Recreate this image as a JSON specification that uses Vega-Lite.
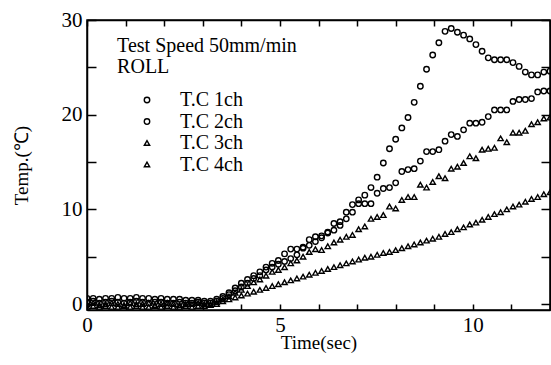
{
"$schema": "https://vega.github.io/schema/vega-lite/v6.json",
"width": 463, "height": 290,
"autosize": {"type": "none"},
"padding": {"left": 87, "top": 20, "right": 1, "bottom": 55},
"background": "white",
"config": {
  "view": {"stroke": "black", "strokeWidth": 1.5},
  "font": "Liberation Serif",
  "axis": {"grid": false, "labelFlush": false, "domainColor": "black", "domainWidth": 1.5, "tickColor": "black", "tickWidth": 1.5, "labelColor": "black", "labelFont": "Liberation Serif", "labelFontSize": 21, "titleFont": "Liberation Serif", "titleFontSize": 19, "titleFontWeight": "normal", "titleColor": "black"}
},
"data": {"values": [
{"t":0,"s":"T.C 1ch","v":0.6},{"t":0.16,"s":"T.C 1ch","v":0.6},{"t":0.32,"s":"T.C 1ch","v":0.5},{"t":0.48,"s":"T.C 1ch","v":0.6},{"t":0.64,"s":"T.C 1ch","v":0.6},{"t":0.8,"s":"T.C 1ch","v":0.7},{"t":0.96,"s":"T.C 1ch","v":0.6},{"t":1.12,"s":"T.C 1ch","v":0.6},{"t":1.28,"s":"T.C 1ch","v":0.7},{"t":1.44,"s":"T.C 1ch","v":0.6},{"t":1.6,"s":"T.C 1ch","v":0.6},{"t":1.76,"s":"T.C 1ch","v":0.5},{"t":1.92,"s":"T.C 1ch","v":0.6},{"t":2.08,"s":"T.C 1ch","v":0.5},{"t":2.24,"s":"T.C 1ch","v":0.5},{"t":2.4,"s":"T.C 1ch","v":0.5},{"t":2.56,"s":"T.C 1ch","v":0.4},{"t":2.72,"s":"T.C 1ch","v":0.4},{"t":2.88,"s":"T.C 1ch","v":0.4},{"t":3.04,"s":"T.C 1ch","v":0.3},{"t":3.2,"s":"T.C 1ch","v":0.3},{"t":3.36,"s":"T.C 1ch","v":0.5},{"t":3.52,"s":"T.C 1ch","v":0.8},{"t":3.68,"s":"T.C 1ch","v":1.2},{"t":3.84,"s":"T.C 1ch","v":1.7},{"t":4,"s":"T.C 1ch","v":2.2},{"t":4.16,"s":"T.C 1ch","v":2.6},{"t":4.32,"s":"T.C 1ch","v":3.0},{"t":4.48,"s":"T.C 1ch","v":3.4},{"t":4.64,"s":"T.C 1ch","v":3.9},{"t":4.8,"s":"T.C 1ch","v":4.3},{"t":4.96,"s":"T.C 1ch","v":4.6},{"t":5.12,"s":"T.C 1ch","v":5.3},{"t":5.28,"s":"T.C 1ch","v":5.8},{"t":5.44,"s":"T.C 1ch","v":5.8},{"t":5.6,"s":"T.C 1ch","v":6.0},{"t":5.76,"s":"T.C 1ch","v":6.8},{"t":5.92,"s":"T.C 1ch","v":7.1},{"t":6.08,"s":"T.C 1ch","v":7.2},{"t":6.24,"s":"T.C 1ch","v":7.6},{"t":6.4,"s":"T.C 1ch","v":8.5},{"t":6.56,"s":"T.C 1ch","v":8.7},{"t":6.72,"s":"T.C 1ch","v":9.7},{"t":6.88,"s":"T.C 1ch","v":10.5},{"t":7.04,"s":"T.C 1ch","v":11.0},{"t":7.2,"s":"T.C 1ch","v":11.5},{"t":7.36,"s":"T.C 1ch","v":12.3},{"t":7.52,"s":"T.C 1ch","v":13.4},{"t":7.68,"s":"T.C 1ch","v":14.9},{"t":7.84,"s":"T.C 1ch","v":16.4},{"t":8,"s":"T.C 1ch","v":17.4},{"t":8.16,"s":"T.C 1ch","v":18.6},{"t":8.32,"s":"T.C 1ch","v":19.7},{"t":8.48,"s":"T.C 1ch","v":21.3},{"t":8.64,"s":"T.C 1ch","v":23.0},{"t":8.8,"s":"T.C 1ch","v":24.8},{"t":8.96,"s":"T.C 1ch","v":26.3},{"t":9.12,"s":"T.C 1ch","v":27.6},{"t":9.28,"s":"T.C 1ch","v":28.8},{"t":9.44,"s":"T.C 1ch","v":29.1},{"t":9.6,"s":"T.C 1ch","v":28.7},{"t":9.76,"s":"T.C 1ch","v":28.4},{"t":9.92,"s":"T.C 1ch","v":28.0},{"t":10.08,"s":"T.C 1ch","v":27.4},{"t":10.24,"s":"T.C 1ch","v":26.7},{"t":10.4,"s":"T.C 1ch","v":26.0},{"t":10.56,"s":"T.C 1ch","v":25.8},{"t":10.72,"s":"T.C 1ch","v":25.8},{"t":10.88,"s":"T.C 1ch","v":25.8},{"t":11.04,"s":"T.C 1ch","v":25.5},{"t":11.2,"s":"T.C 1ch","v":25.1},{"t":11.36,"s":"T.C 1ch","v":24.5},{"t":11.52,"s":"T.C 1ch","v":24.2},{"t":11.68,"s":"T.C 1ch","v":24.2},{"t":11.84,"s":"T.C 1ch","v":24.5},{"t":12,"s":"T.C 1ch","v":24.6},
{"t":0,"s":"T.C 2ch","v":0.2},{"t":0.16,"s":"T.C 2ch","v":0.3},{"t":0.32,"s":"T.C 2ch","v":0.1},{"t":0.48,"s":"T.C 2ch","v":0.2},{"t":0.64,"s":"T.C 2ch","v":0.3},{"t":0.8,"s":"T.C 2ch","v":0.2},{"t":0.96,"s":"T.C 2ch","v":0.1},{"t":1.12,"s":"T.C 2ch","v":0.2},{"t":1.28,"s":"T.C 2ch","v":0.3},{"t":1.44,"s":"T.C 2ch","v":0.2},{"t":1.6,"s":"T.C 2ch","v":0.1},{"t":1.76,"s":"T.C 2ch","v":0.2},{"t":1.92,"s":"T.C 2ch","v":0.2},{"t":2.08,"s":"T.C 2ch","v":0.1},{"t":2.24,"s":"T.C 2ch","v":0.1},{"t":2.4,"s":"T.C 2ch","v":0.2},{"t":2.56,"s":"T.C 2ch","v":0.1},{"t":2.72,"s":"T.C 2ch","v":0.1},{"t":2.88,"s":"T.C 2ch","v":0.2},{"t":3.04,"s":"T.C 2ch","v":0.1},{"t":3.2,"s":"T.C 2ch","v":0.1},{"t":3.36,"s":"T.C 2ch","v":0.3},{"t":3.52,"s":"T.C 2ch","v":0.6},{"t":3.68,"s":"T.C 2ch","v":1.0},{"t":3.84,"s":"T.C 2ch","v":1.4},{"t":4,"s":"T.C 2ch","v":1.8},{"t":4.16,"s":"T.C 2ch","v":2.2},{"t":4.32,"s":"T.C 2ch","v":2.7},{"t":4.48,"s":"T.C 2ch","v":3.0},{"t":4.64,"s":"T.C 2ch","v":3.6},{"t":4.8,"s":"T.C 2ch","v":3.9},{"t":4.96,"s":"T.C 2ch","v":4.2},{"t":5.12,"s":"T.C 2ch","v":4.5},{"t":5.28,"s":"T.C 2ch","v":4.8},{"t":5.44,"s":"T.C 2ch","v":5.2},{"t":5.6,"s":"T.C 2ch","v":5.9},{"t":5.76,"s":"T.C 2ch","v":6.2},{"t":5.92,"s":"T.C 2ch","v":6.6},{"t":6.08,"s":"T.C 2ch","v":7.0},{"t":6.24,"s":"T.C 2ch","v":7.5},{"t":6.4,"s":"T.C 2ch","v":7.8},{"t":6.56,"s":"T.C 2ch","v":8.3},{"t":6.72,"s":"T.C 2ch","v":9.0},{"t":6.88,"s":"T.C 2ch","v":9.7},{"t":7.04,"s":"T.C 2ch","v":10.6},{"t":7.2,"s":"T.C 2ch","v":10.6},{"t":7.36,"s":"T.C 2ch","v":10.6},{"t":7.52,"s":"T.C 2ch","v":11.7},{"t":7.68,"s":"T.C 2ch","v":12.2},{"t":7.84,"s":"T.C 2ch","v":12.3},{"t":8,"s":"T.C 2ch","v":12.8},{"t":8.16,"s":"T.C 2ch","v":14.0},{"t":8.32,"s":"T.C 2ch","v":14.2},{"t":8.48,"s":"T.C 2ch","v":14.3},{"t":8.64,"s":"T.C 2ch","v":15.1},{"t":8.8,"s":"T.C 2ch","v":16.1},{"t":8.96,"s":"T.C 2ch","v":16.1},{"t":9.12,"s":"T.C 2ch","v":16.3},{"t":9.28,"s":"T.C 2ch","v":17.2},{"t":9.44,"s":"T.C 2ch","v":17.9},{"t":9.6,"s":"T.C 2ch","v":17.7},{"t":9.76,"s":"T.C 2ch","v":18.4},{"t":9.92,"s":"T.C 2ch","v":19.1},{"t":10.08,"s":"T.C 2ch","v":19.1},{"t":10.24,"s":"T.C 2ch","v":19.2},{"t":10.4,"s":"T.C 2ch","v":19.8},{"t":10.56,"s":"T.C 2ch","v":20.5},{"t":10.72,"s":"T.C 2ch","v":20.5},{"t":10.88,"s":"T.C 2ch","v":20.5},{"t":11.04,"s":"T.C 2ch","v":21.4},{"t":11.2,"s":"T.C 2ch","v":21.6},{"t":11.36,"s":"T.C 2ch","v":21.6},{"t":11.52,"s":"T.C 2ch","v":21.7},{"t":11.68,"s":"T.C 2ch","v":22.4},{"t":11.84,"s":"T.C 2ch","v":22.5},{"t":12,"s":"T.C 2ch","v":22.5},
{"t":0,"s":"T.C 3ch","v":0.0},{"t":0.16,"s":"T.C 3ch","v":0.1},{"t":0.32,"s":"T.C 3ch","v":-0.1},{"t":0.48,"s":"T.C 3ch","v":0.0},{"t":0.64,"s":"T.C 3ch","v":0.1},{"t":0.8,"s":"T.C 3ch","v":0.0},{"t":0.96,"s":"T.C 3ch","v":-0.1},{"t":1.12,"s":"T.C 3ch","v":0.1},{"t":1.28,"s":"T.C 3ch","v":0.0},{"t":1.44,"s":"T.C 3ch","v":0.0},{"t":1.6,"s":"T.C 3ch","v":0.1},{"t":1.76,"s":"T.C 3ch","v":-0.1},{"t":1.92,"s":"T.C 3ch","v":0.0},{"t":2.08,"s":"T.C 3ch","v":0.1},{"t":2.24,"s":"T.C 3ch","v":0.0},{"t":2.4,"s":"T.C 3ch","v":-0.1},{"t":2.56,"s":"T.C 3ch","v":0.0},{"t":2.72,"s":"T.C 3ch","v":0.0},{"t":2.88,"s":"T.C 3ch","v":0.1},{"t":3.04,"s":"T.C 3ch","v":0.0},{"t":3.2,"s":"T.C 3ch","v":0.0},{"t":3.36,"s":"T.C 3ch","v":0.2},{"t":3.52,"s":"T.C 3ch","v":0.5},{"t":3.68,"s":"T.C 3ch","v":0.8},{"t":3.84,"s":"T.C 3ch","v":1.2},{"t":4,"s":"T.C 3ch","v":1.5},{"t":4.16,"s":"T.C 3ch","v":1.9},{"t":4.32,"s":"T.C 3ch","v":2.3},{"t":4.48,"s":"T.C 3ch","v":2.6},{"t":4.64,"s":"T.C 3ch","v":3.0},{"t":4.8,"s":"T.C 3ch","v":3.4},{"t":4.96,"s":"T.C 3ch","v":3.6},{"t":5.12,"s":"T.C 3ch","v":3.9},{"t":5.28,"s":"T.C 3ch","v":4.3},{"t":5.44,"s":"T.C 3ch","v":4.6},{"t":5.6,"s":"T.C 3ch","v":5.0},{"t":5.76,"s":"T.C 3ch","v":5.5},{"t":5.92,"s":"T.C 3ch","v":5.8},{"t":6.08,"s":"T.C 3ch","v":5.7},{"t":6.24,"s":"T.C 3ch","v":6.1},{"t":6.4,"s":"T.C 3ch","v":6.5},{"t":6.56,"s":"T.C 3ch","v":6.8},{"t":6.72,"s":"T.C 3ch","v":7.1},{"t":6.88,"s":"T.C 3ch","v":7.3},{"t":7.04,"s":"T.C 3ch","v":7.9},{"t":7.2,"s":"T.C 3ch","v":8.2},{"t":7.36,"s":"T.C 3ch","v":9.0},{"t":7.52,"s":"T.C 3ch","v":9.2},{"t":7.68,"s":"T.C 3ch","v":9.4},{"t":7.84,"s":"T.C 3ch","v":10.3},{"t":8,"s":"T.C 3ch","v":10.1},{"t":8.16,"s":"T.C 3ch","v":11.0},{"t":8.32,"s":"T.C 3ch","v":11.3},{"t":8.48,"s":"T.C 3ch","v":11.3},{"t":8.64,"s":"T.C 3ch","v":12.6},{"t":8.8,"s":"T.C 3ch","v":12.3},{"t":8.96,"s":"T.C 3ch","v":12.9},{"t":9.12,"s":"T.C 3ch","v":13.5},{"t":9.28,"s":"T.C 3ch","v":13.3},{"t":9.44,"s":"T.C 3ch","v":14.3},{"t":9.6,"s":"T.C 3ch","v":14.5},{"t":9.76,"s":"T.C 3ch","v":14.9},{"t":9.92,"s":"T.C 3ch","v":15.6},{"t":10.08,"s":"T.C 3ch","v":15.4},{"t":10.24,"s":"T.C 3ch","v":16.3},{"t":10.4,"s":"T.C 3ch","v":16.4},{"t":10.56,"s":"T.C 3ch","v":16.5},{"t":10.72,"s":"T.C 3ch","v":17.5},{"t":10.88,"s":"T.C 3ch","v":17.1},{"t":11.04,"s":"T.C 3ch","v":18.1},{"t":11.2,"s":"T.C 3ch","v":18.1},{"t":11.36,"s":"T.C 3ch","v":18.3},{"t":11.52,"s":"T.C 3ch","v":19.0},{"t":11.68,"s":"T.C 3ch","v":19.2},{"t":11.84,"s":"T.C 3ch","v":19.6},{"t":12,"s":"T.C 3ch","v":19.7},
{"t":0,"s":"T.C 4ch","v":-0.3},{"t":0.16,"s":"T.C 4ch","v":-0.2},{"t":0.32,"s":"T.C 4ch","v":-0.3},{"t":0.48,"s":"T.C 4ch","v":-0.2},{"t":0.64,"s":"T.C 4ch","v":-0.3},{"t":0.8,"s":"T.C 4ch","v":-0.3},{"t":0.96,"s":"T.C 4ch","v":-0.2},{"t":1.12,"s":"T.C 4ch","v":-0.3},{"t":1.28,"s":"T.C 4ch","v":-0.2},{"t":1.44,"s":"T.C 4ch","v":-0.3},{"t":1.6,"s":"T.C 4ch","v":-0.3},{"t":1.76,"s":"T.C 4ch","v":-0.2},{"t":1.92,"s":"T.C 4ch","v":-0.3},{"t":2.08,"s":"T.C 4ch","v":-0.2},{"t":2.24,"s":"T.C 4ch","v":-0.3},{"t":2.4,"s":"T.C 4ch","v":-0.3},{"t":2.56,"s":"T.C 4ch","v":-0.2},{"t":2.72,"s":"T.C 4ch","v":-0.3},{"t":2.88,"s":"T.C 4ch","v":-0.2},{"t":3.04,"s":"T.C 4ch","v":-0.2},{"t":3.2,"s":"T.C 4ch","v":-0.1},{"t":3.36,"s":"T.C 4ch","v":0.0},{"t":3.52,"s":"T.C 4ch","v":0.3},{"t":3.68,"s":"T.C 4ch","v":0.5},{"t":3.84,"s":"T.C 4ch","v":0.7},{"t":4,"s":"T.C 4ch","v":0.9},{"t":4.16,"s":"T.C 4ch","v":1.1},{"t":4.32,"s":"T.C 4ch","v":1.3},{"t":4.48,"s":"T.C 4ch","v":1.5},{"t":4.64,"s":"T.C 4ch","v":1.7},{"t":4.8,"s":"T.C 4ch","v":1.9},{"t":4.96,"s":"T.C 4ch","v":2.1},{"t":5.12,"s":"T.C 4ch","v":2.3},{"t":5.28,"s":"T.C 4ch","v":2.5},{"t":5.44,"s":"T.C 4ch","v":2.7},{"t":5.6,"s":"T.C 4ch","v":2.9},{"t":5.76,"s":"T.C 4ch","v":3.1},{"t":5.92,"s":"T.C 4ch","v":3.3},{"t":6.08,"s":"T.C 4ch","v":3.5},{"t":6.24,"s":"T.C 4ch","v":3.7},{"t":6.4,"s":"T.C 4ch","v":3.9},{"t":6.56,"s":"T.C 4ch","v":4.1},{"t":6.72,"s":"T.C 4ch","v":4.3},{"t":6.88,"s":"T.C 4ch","v":4.5},{"t":7.04,"s":"T.C 4ch","v":4.7},{"t":7.2,"s":"T.C 4ch","v":4.9},{"t":7.36,"s":"T.C 4ch","v":5.0},{"t":7.52,"s":"T.C 4ch","v":5.2},{"t":7.68,"s":"T.C 4ch","v":5.4},{"t":7.84,"s":"T.C 4ch","v":5.5},{"t":8,"s":"T.C 4ch","v":5.7},{"t":8.16,"s":"T.C 4ch","v":5.9},{"t":8.32,"s":"T.C 4ch","v":6.1},{"t":8.48,"s":"T.C 4ch","v":6.3},{"t":8.64,"s":"T.C 4ch","v":6.5},{"t":8.8,"s":"T.C 4ch","v":6.7},{"t":8.96,"s":"T.C 4ch","v":6.9},{"t":9.12,"s":"T.C 4ch","v":7.1},{"t":9.28,"s":"T.C 4ch","v":7.4},{"t":9.44,"s":"T.C 4ch","v":7.6},{"t":9.6,"s":"T.C 4ch","v":7.9},{"t":9.76,"s":"T.C 4ch","v":8.1},{"t":9.92,"s":"T.C 4ch","v":8.4},{"t":10.08,"s":"T.C 4ch","v":8.6},{"t":10.24,"s":"T.C 4ch","v":8.9},{"t":10.4,"s":"T.C 4ch","v":9.2},{"t":10.56,"s":"T.C 4ch","v":9.5},{"t":10.72,"s":"T.C 4ch","v":9.7},{"t":10.88,"s":"T.C 4ch","v":10.0},{"t":11.04,"s":"T.C 4ch","v":10.3},{"t":11.2,"s":"T.C 4ch","v":10.5},{"t":11.36,"s":"T.C 4ch","v":10.8},{"t":11.52,"s":"T.C 4ch","v":11.1},{"t":11.68,"s":"T.C 4ch","v":11.3},{"t":11.84,"s":"T.C 4ch","v":11.6},{"t":12,"s":"T.C 4ch","v":11.8}
]},
"resolve": {"axis": {"x": "independent", "y": "independent"}},
"layer": [
  {
    "mark": {"type": "point", "filled": false, "color": "black", "opacity": 1, "strokeWidth": 1.4, "clip": true},
    "encoding": {
      "x": {"field": "t", "type": "quantitative", "scale": {"domain": [0, 12], "nice": false, "zero": false},
        "axis": {"orient": "bottom", "values": [0,1,2,3,4,5,6,7,8,9,10,11,12], "labelExpr": "datum.value % 5 === 0 ? datum.label : ''", "tickSize": -6, "labelPadding": 10, "title": "Time(sec)", "titlePadding": -2}},
      "y": {"field": "v", "type": "quantitative", "scale": {"domain": [-0.63, 30], "nice": false, "zero": false},
        "axis": {"orient": "left", "values": [0,5,10,15,20,25,30], "labelExpr": "datum.value % 10 === 0 ? datum.label : ''", "tickSize": -9, "labelPadding": 14, "title": "Temp.(℃)", "titlePadding": 30}},
      "shape": {"field": "s", "type": "nominal",
        "scale": {"domain": ["T.C 1ch", "T.C 2ch", "T.C 3ch", "T.C 4ch"], "range": ["circle", "circle", "triangle-up", "triangle-up"]},
        "legend": {"orient": "none", "legendX": 50, "legendY": 70, "title": null, "labelFont": "Liberation Serif", "labelFontSize": 20, "labelColor": "black", "symbolStrokeColor": "black", "symbolFillColor": "white", "symbolStrokeWidth": 1.4, "labelOffset": 23, "rowPadding": 1.5}},
      "size": {"field": "s", "type": "nominal",
        "scale": {"domain": ["T.C 1ch", "T.C 2ch", "T.C 3ch", "T.C 4ch"], "range": [30, 28, 60, 65]},
        "legend": {"orient": "none", "legendX": 50, "legendY": 70, "title": null, "labelFont": "Liberation Serif", "labelFontSize": 20, "labelColor": "black", "symbolStrokeColor": "black", "symbolFillColor": "white", "symbolStrokeWidth": 1.4, "labelOffset": 23, "rowPadding": 1.5}}
    }
  },
  {
    "data": {"values": [{}]},
    "mark": {"type": "text", "align": "left", "baseline": "middle", "font": "Liberation Serif", "fontSize": 20, "color": "black", "lineBreak": "\n", "lineHeight": 21},
    "encoding": {
      "x": {"datum": 0.78, "type": "quantitative", "axis": {"orient": "top", "values": [0,1,2,3,4,5,6,7,8,9,10,11,12], "labels": false, "title": null, "tickSize": -6}},
      "y": {"datum": 27.3, "type": "quantitative", "axis": {"orient": "right", "values": [0,5,10,15,20,25,30], "labels": false, "title": null, "tickSize": -9}},
      "text": {"value": "Test Speed 50mm/min\nROLL"}
    }
  }
]
}
